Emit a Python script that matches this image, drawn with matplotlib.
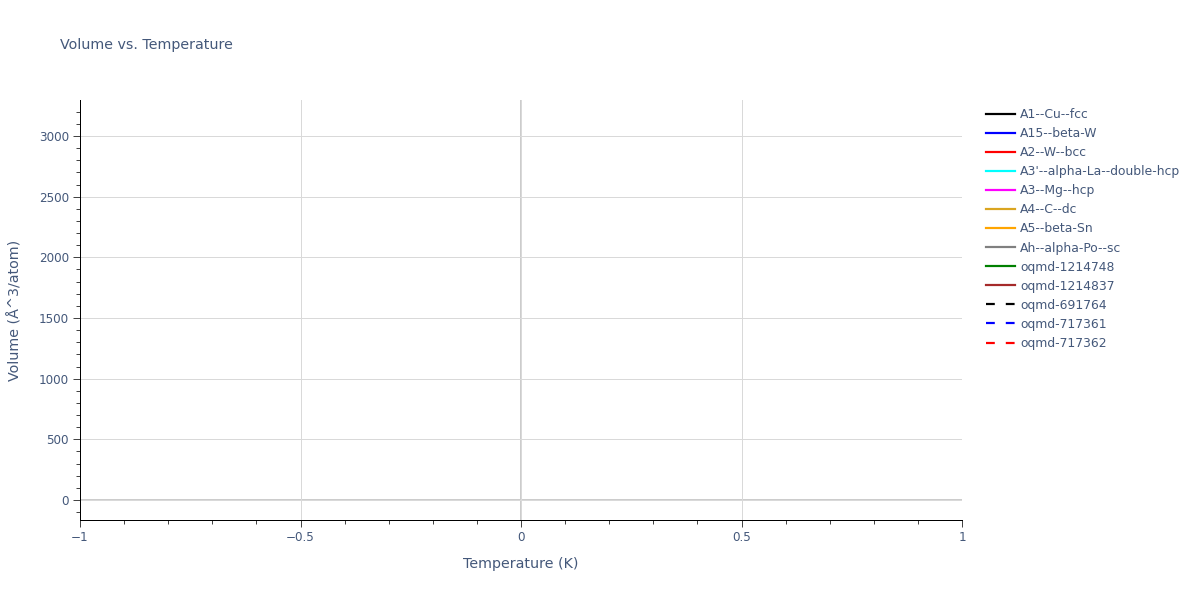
"""
Volume vs. Temperature — empty plot with one legend entry per structure.
"""

import matplotlib
matplotlib.use("Agg")
import matplotlib.pyplot as plt
from matplotlib.ticker import MultipleLocator, FixedLocator, FixedFormatter

# ---------------------------------------------------------------------------
#  Data — every series is empty in the reference (no points drawn)
# ---------------------------------------------------------------------------

structures = [
    "A1--Cu--fcc", "A15--beta-W", "A2--W--bcc", "A3'--alpha-La--double-hcp",
    "A3--Mg--hcp", "A4--C--dc", "A5--beta-Sn", "Ah--alpha-Po--sc",
    "oqmd-1214748", "oqmd-1214837", "oqmd-691764", "oqmd-717361", "oqmd-717362",
]
colors = [
    "black", "blue", "red", "cyan", "magenta", "goldenrod", "orange", "gray",
    "green", "brown", "black", "blue", "red",
]
dashed = [False] * 10 + [True] * 3

temperature = {name: [] for name in structures}   # K
volume = {name: [] for name in structures}        # Å^3/atom

xticks = [-1, -0.5, 0, 0.5, 1]
xtick_labels = ["\u22121", "\u22120.5", "0", "0.5", "1"]
yticks = [0, 500, 1000, 1500, 2000, 2500, 3000]

# ---------------------------------------------------------------------------
#  Figure
# ---------------------------------------------------------------------------

TICK_TXT = "#44587a"
GRID = "#d9d9d9"
PX = 72 / 100  # points per pixel at dpi=100

plt.rcParams["font.family"] = ["DejaVu Sans"]

fig = plt.figure(figsize=(12, 6), dpi=100)
ax = fig.add_axes([80 / 1200, 80 / 600, 882 / 1200, 420 / 600])

for name, c, d in zip(structures, colors, dashed):
    ln, = ax.plot(temperature[name], volume[name], color=c, lw=2.2 * PX,
                  label=name)
    if d:
        ln.set_dashes((4, 5))

ax.set_xlim(-1, 1)
ax.set_ylim(-165, 3297)

ax.xaxis.set_major_locator(FixedLocator(xticks))
ax.xaxis.set_major_formatter(FixedFormatter(xtick_labels))
ax.xaxis.set_minor_locator(MultipleLocator(0.1))
ax.yaxis.set_major_locator(FixedLocator(yticks))
ax.yaxis.set_minor_locator(MultipleLocator(100))

ax.grid(True, which="major", color=GRID, lw=1 * PX)
ax.axhline(0, color="#cccccc", lw=2 * PX, zorder=1)
ax.axvline(0, color="#cccccc", lw=2 * PX, zorder=1)

for side in ("top", "right"):
    ax.spines[side].set_visible(False)
for side in ("left", "bottom"):
    ax.spines[side].set_color("black")
    ax.spines[side].set_linewidth(1 * PX)

ax.tick_params(which="major", direction="out", length=5, width=1 * PX,
               color="#444444", labelcolor=TICK_TXT, labelsize=12 * PX, pad=3)
ax.tick_params(which="minor", direction="out", length=3, width=1 * PX,
               color="#444444")

ax.set_xlabel("Temperature (K)", color=TICK_TXT, fontsize=14.3 * PX, labelpad=9.5)
ax.set_ylabel("Volume (Å^3/atom)", color=TICK_TXT, fontsize=14.3 * PX, labelpad=12)
fig.text(60 / 1200, 1 - 45 / 600, "Volume vs. Temperature", color=TICK_TXT,
         fontsize=14.2 * PX, ha="left", va="center")

leg = ax.legend(loc="upper left", bbox_to_anchor=(986 / 1200, 1 - 108 / 600),
                bbox_transform=fig.transFigure, frameon=False,
                fontsize=12.4 * PX, handlelength=2.3, handletextpad=0.45,
                labelspacing=0.49, borderaxespad=0, borderpad=0)
for t in leg.get_texts():
    t.set_color(TICK_TXT)

fig.savefig("out.png", dpi=100)
